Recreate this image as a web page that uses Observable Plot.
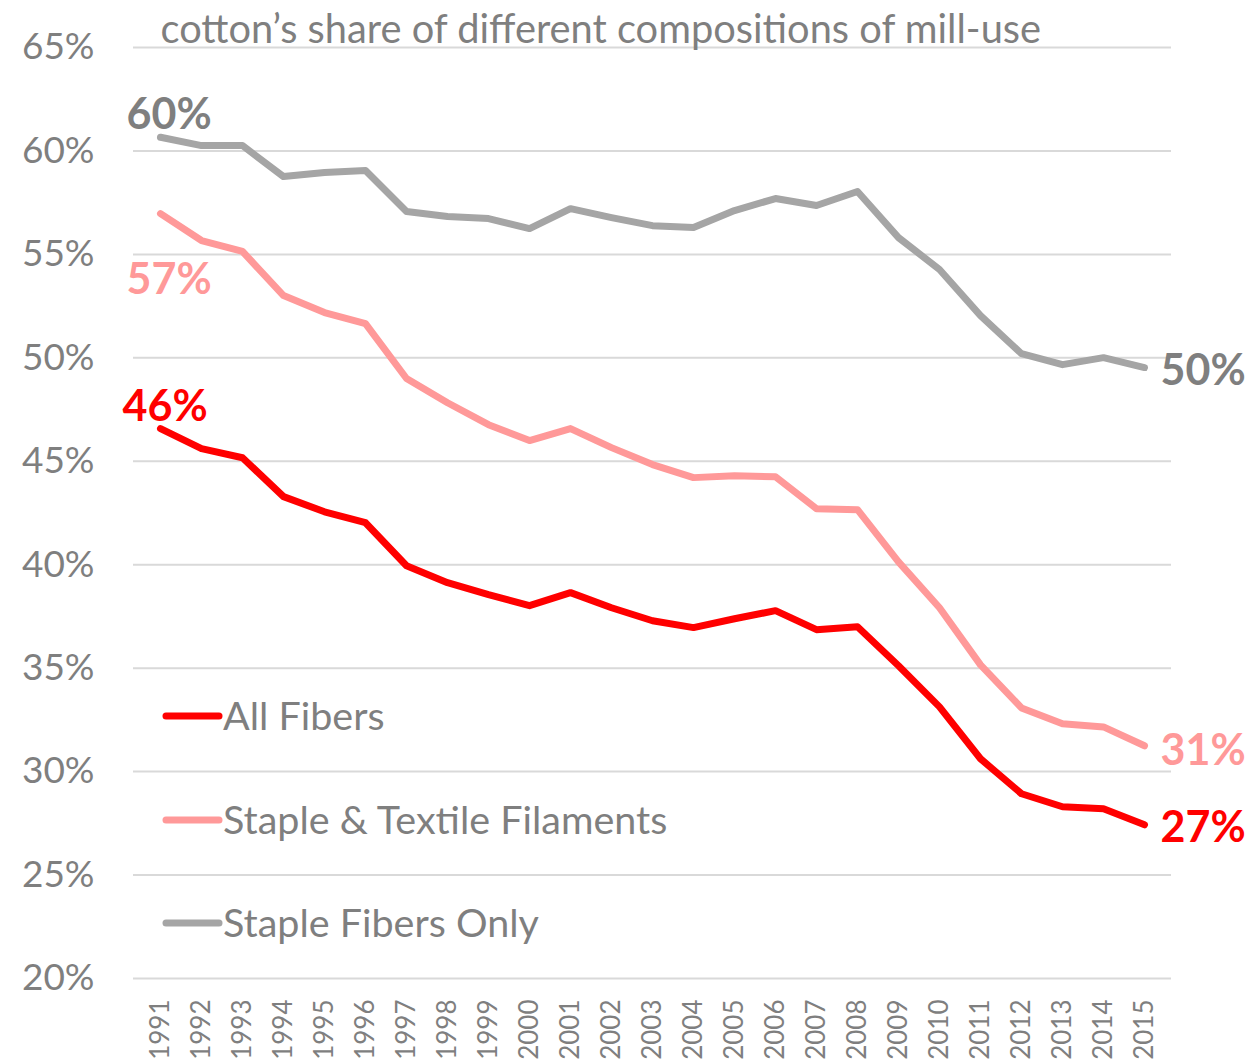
<!DOCTYPE html>
<html><head><meta charset="utf-8">
<script src="https://cdn.jsdelivr.net/npm/d3@7"></script>
<script src="https://cdn.jsdelivr.net/npm/@observablehq/plot@0.6"></script>
<style>
body{margin:0;background:#fff}
svg{display:block}
</style>
</head><body><div id="chart"></div>
<script>
const years = ["1991","1992","1993","1994","1995","1996","1997","1998","1999","2000","2001","2002","2003","2004","2005","2006","2007","2008","2009","2010","2011","2012","2013","2014","2015"];
const allFibers = [46.58,45.61,45.17,43.29,42.56,42.03,39.95,39.13,38.55,38.02,38.65,37.92,37.29,36.96,37.39,37.78,36.86,37.0,35.12,33.13,30.62,28.93,28.30,28.20,27.43];
const stapleTextile = [56.97,55.67,55.14,53.01,52.19,51.65,49.0,47.83,46.77,46.0,46.58,45.66,44.84,44.21,44.30,44.25,42.71,42.66,40.14,37.92,35.16,33.08,32.31,32.16,31.25];
const stapleOnly = [60.66,60.26,60.26,58.76,58.96,59.05,57.07,56.83,56.73,56.25,57.21,56.78,56.39,56.30,57.12,57.70,57.36,58.04,55.81,54.27,52.04,50.20,49.67,50.01,49.53];
const seriesNames = ["All Fibers","Staple & Textile Filaments","Staple Fibers Only"];
const seriesColors = ["#FF0000","#FF9999","#A5A5A5"];
const labelColors = ["#FF0000","#FF9999","#7F7F7F"];
const startLabels = ["46%","57%","60%"];
const endLabels = ["27%","31%","50%"];
const yTicks = [20,25,30,35,40,45,50,55,60,65];
const title = "cotton’s share of different compositions of mill-use";

const seriesValues = [allFibers, stapleTextile, stapleOnly];
const rows = [];
seriesNames.forEach((s, i) => years.forEach((y, j) => rows.push({series: s, year: y, value: seriesValues[i][j]})));
const starts = seriesNames.map((s, i) => ({series: s, year: years[0], value: seriesValues[i][0], label: startLabels[i], color: labelColors[i]}));
const ends = seriesNames.map((s, i) => ({series: s, year: years[years.length-1], value: seriesValues[i][years.length-1], label: endLabels[i], color: labelColors[i]}));
const startDx = [-38, -34, -34];
const startDy = [-21, 67, -22];
const endDy = [3, 5, 4];

const FONT = "Lato, 'Open Sans', sans-serif";
const plot = Plot.plot({
  width: 1260,
  height: 1063,
  marginLeft: 133,
  marginRight: 89,
  marginTop: 47,
  marginBottom: 85,
  style: {fontFamily: FONT, background: "#fff", color: "#7F7F7F"},
  x: {type: "point", domain: years, padding: 0.5, label: null},
  y: {domain: [20, 65], label: null},
  color: {domain: seriesNames, range: seriesColors},
  marks: [
    Plot.gridY(yTicks, {stroke: "#D9D9D9", strokeOpacity: 1, strokeWidth: 2}),
    Plot.axisY(yTicks, {tickSize: 0, tickPadding: 39, tickFormat: d => d + "%", fontSize: 37, fill: "#7F7F7F", label: null}),
    Plot.axisX(years, {tickSize: 0, tickPadding: 21, tickRotate: -90, fontSize: 26, fill: "#7F7F7F", label: null}),
    Plot.line(rows, {x: "year", y: "value", z: "series", stroke: "series", strokeWidth: 7, strokeLinecap: "round", strokeLinejoin: "round"}),
    ...starts.map((d, i) => Plot.text([d], {x: "year", y: "value", text: "label", fill: d.color, fontWeight: "bold", fontSize: 43, textAnchor: "start", dx: startDx[i], dy: startDy[i]})),
    ...ends.map((d, i) => Plot.text([d], {x: "year", y: "value", text: "label", fill: d.color, fontWeight: "bold", fontSize: 43, textAnchor: "start", dx: 16, dy: endDy[i]})),
    Plot.text([title], {frameAnchor: "top-left", text: d => d, dx: 27, dy: -33, fontSize: 39.8, fill: "#7F7F7F", textAnchor: "start"})
  ]
});
document.getElementById("chart").appendChild(plot);

// legend inside plot area
const svg = d3.select(plot);
const legendY = [716, 820, 923];
const lg = svg.append("g").attr("font-family", FONT).attr("text-anchor", "start");
seriesNames.forEach((s, i) => {
  lg.append("line").attr("x1", 166).attr("x2", 219).attr("y1", legendY[i]).attr("y2", legendY[i])
    .attr("stroke", seriesColors[i]).attr("stroke-width", 7).attr("stroke-linecap", "round");
  lg.append("text").attr("x", 223).attr("y", legendY[i]).attr("dy", "0.35em")
    .attr("font-size", 39.5).attr("fill", "#7F7F7F").text(s);
});
</script>
</body></html>
